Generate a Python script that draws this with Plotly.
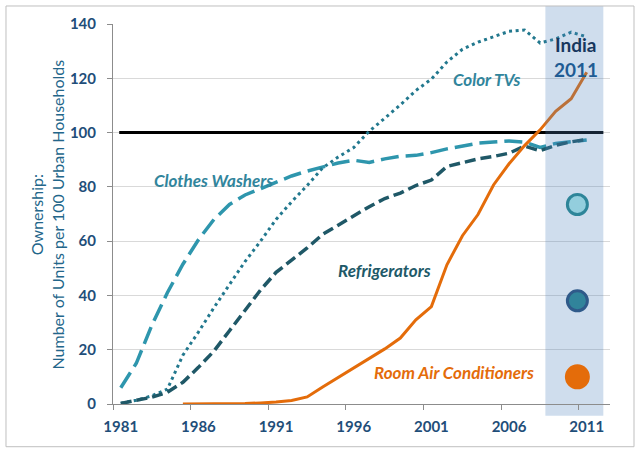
import plotly.graph_objects as go

# ---------------- data ----------------
years = list(range(1981, 2012))
clothes_washers = [6, 15, 29, 41, 51.5, 60.5, 68, 73.5, 77, 79.3, 81.8, 84, 85.8, 87.4, 88.8,
                   89.8, 89, 90.3, 91.3, 91.6, 92.6, 94, 95, 96.1, 96.5, 96.9, 96.5, 94.5, 96,
                   96.8, 97.3]
refrigerators = [0.2, 1.2, 2.5, 4.3, 8, 13.5, 19.5, 27, 34.6, 42, 48.5, 53, 57.5, 62.5, 66,
                 69.5, 72.7, 75.7, 77.7, 80.5, 82.5, 87.5, 89, 90.3, 91.2, 92.4, 95, 93.3,
                 95.3, 96.6, 97.5]
color_tvs = [0.3, 1.4, 3, 5.5, 18, 26.5, 35.5, 44, 52.5, 60, 68, 74.5, 80.5, 87, 91, 94.5,
             100.5, 105.3, 110.2, 115.5, 119.7, 126, 130.7, 133.3, 135.4, 137.3, 137.8, 133,
             134.5, 137, 135.3]
ac_years = list(range(1985, 2012))
room_acs = [0, 0, 0.1, 0.1, 0.2, 0.4, 0.7, 1.3, 2.6, 6.3, 9.8, 13.3, 16.8, 20.3, 24.3, 31,
            35.9, 51.3, 62, 69.8, 80.7, 88.5, 95.2, 101, 107.8, 112.5, 122.2]

india_values = [73.5, 38, 10]           # Color TVs, Refrigerators, Room ACs (India 2011)
saturation_level = 100
tick_years = [1981, 1986, 1991, 1996, 2001, 2006, 2011]
y_ticks = [0, 20, 40, 60, 80, 100, 120, 140]

# ---------------- layout constants ----------------
X_RANGE = [1980.5, 2012.5]
Y_RANGE = [0, 140]
BAND_X0, BAND_X1 = 2008.34, 2012.07
INDIA_X = 2010.4
REF_X0 = 1980.9

C_WASH = "#2E96AD"
C_FRIDGE = "#1F5867"
C_TV = "#22788E"
C_AC = "#E46C0A"
BAND_RGBA = "rgba(79,129,189,0.27)"
TICK_C = "#1F4E79"
AXIS_C = "#8C8C8C"
FONT = "Lato"

fig = go.Figure()

fig.add_trace(go.Scatter(x=years, y=clothes_washers, mode="lines",
                         line=dict(color=C_WASH, width=3.5, dash="18px,7px"),
                         name="Clothes Washers"))
fig.add_trace(go.Scatter(x=years, y=color_tvs, mode="lines",
                         line=dict(color=C_TV, width=3, dash="3px,3.6px"),
                         name="Color TVs"))
fig.add_trace(go.Scatter(x=years, y=refrigerators, mode="lines",
                         line=dict(color=C_FRIDGE, width=3.5, dash="11px,5px"),
                         name="Refrigerators"))
fig.add_trace(go.Scatter(x=ac_years, y=room_acs, mode="lines",
                         line=dict(color=C_AC, width=3),
                         name="Room Air Conditioners"))

# translucent India band over the lines (inside plot area)
fig.add_trace(go.Scatter(x=[BAND_X0, BAND_X1, BAND_X1, BAND_X0, BAND_X0],
                         y=[Y_RANGE[0], Y_RANGE[0], Y_RANGE[1], Y_RANGE[1], Y_RANGE[0]],
                         mode="lines", fill="toself", fillcolor=BAND_RGBA,
                         line=dict(width=0), hoverinfo="skip", name="band"))

# India 2011 markers (drawn after the band so they stay vivid)
fig.add_trace(go.Scatter(x=[INDIA_X] * 3, y=india_values, mode="markers",
                         marker=dict(size=[20, 20, 22], opacity=1,
                                     color=["#93CEDD", "#31849B", C_AC],
                                     line=dict(color=["#2E8599", "#2F5A8A", C_AC], width=3)),
                         name="India 2011"))

shapes = [
    # band parts outside the plot area
    dict(type="rect", xref="x", yref="paper", x0=BAND_X0, x1=BAND_X1, y0=1.0, y1=1.0474,
         fillcolor=BAND_RGBA, line=dict(width=0), layer="below"),
    dict(type="rect", xref="x", yref="paper", x0=BAND_X0, x1=BAND_X1, y0=-0.0308, y1=0.0,
         fillcolor=BAND_RGBA, line=dict(width=0), layer="below"),
    # saturation line
    dict(type="line", xref="x", yref="y", x0=REF_X0, x1=BAND_X1,
         y0=saturation_level, y1=saturation_level,
         line=dict(color="black", width=3), layer="between"),
    # outer border
    dict(type="rect", xref="paper", yref="paper", x0=-0.2153, x1=1.0483, y0=-0.1124, y1=1.0474,
         line=dict(color="#BFBFBF", width=1), fillcolor="rgba(0,0,0,0)", layer="below"),
]

lab_font = dict(family=FONT, size=17, weight="bold", style="italic")
annotations = [
    dict(x=2004.52, y=119.4, text="Color TVs", font=dict(lab_font, color="#31859C")),
    dict(x=1986.94, y=82.5, text="Clothes Washers", font=dict(lab_font, color="#31859C")),
    dict(x=1997.98, y=49.1, text="Refrigerators", font=dict(lab_font, color="#215968")),
    dict(x=2002.46, y=11.5, text="Room Air Conditioners", font=dict(lab_font, color=C_AC)),
    dict(x=2010.31, y=132.3, text="India",
         font=dict(family=FONT, size=19, weight="bold", color="#17375E")),
    dict(x=2010.31, y=123.1, text="2011",
         font=dict(family=FONT, size=19, weight="bold", color="#1F5C94")),
]
for a in annotations:
    a.update(xref="x", yref="y", showarrow=False, xanchor="center", yanchor="middle")

annotations.append(dict(
    xref="paper", yref="paper", x=-0.1318, y=0.5, xanchor="center", yanchor="middle",
    text="Ownership:<br>Number of Units per 100 Urban Households", textangle=-90,
    showarrow=False, font=dict(family=FONT, size=16, color="#23668A")))

fig.update_layout(
    width=640, height=451,
    margin=dict(l=113, r=30, t=24, b=47),
    paper_bgcolor="white", plot_bgcolor="white",
    showlegend=False,
    shapes=shapes, annotations=annotations,
    font=dict(family=FONT),
)
fig.update_xaxes(
    range=X_RANGE, tickmode="array", tickvals=tick_years,
    ticktext=[str(y) for y in tick_years], ticks="",
    tickfont=dict(family=FONT, size=15, weight="bold", color=TICK_C),
    showline=True, linecolor=AXIS_C, linewidth=1, showgrid=False, zeroline=False,
    ticklabelstandoff=9,
    minor=dict(tickmode="array", tickvals=[y - 0.5 for y in tick_years], ticks="outside",
               ticklen=5, tickcolor=AXIS_C, showgrid=False),
)
fig.update_yaxes(
    range=Y_RANGE, tickmode="array", tickvals=y_ticks, ticks="outside", ticklen=5,
    tickcolor=AXIS_C, tickfont=dict(family=FONT, size=15, weight="bold", color=TICK_C),
    showline=True, linecolor=AXIS_C, linewidth=1, showgrid=True, gridcolor="#D9D9D9",
    gridwidth=1, zeroline=False, ticklabelstandoff=8,
)

fig.write_html("out.html", config={"displayModeBar": False},
               post_script="document.body.style.margin='0';"
                           "document.body.style.overflow='hidden';")
